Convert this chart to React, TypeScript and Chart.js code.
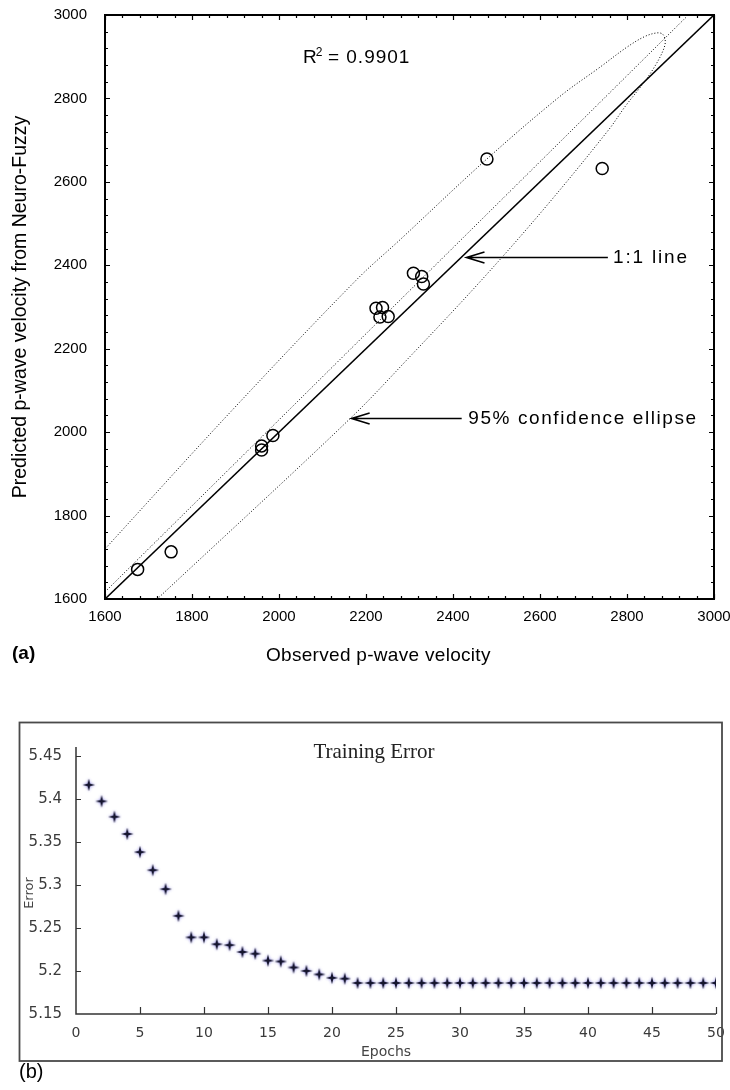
import React, { useEffect, useRef } from "react";
import { Chart, registerables } from "chart.js";
Chart.register(...registerables);

// ---------- Panel (a): observed vs predicted p-wave velocity ----------
const observed = [1675, 1752, 1960, 1960, 1986, 2223, 2238, 2232, 2251, 2309, 2328, 2332, 2478, 2743];
const predicted = [1671, 1713, 1967, 1957, 1992, 2297, 2299, 2276, 2277, 2381, 2373, 2355, 2655, 2632];

const oneToOneX = [1600, 3000];
const oneToOneY = [1600, 3000];

const fitLineX = [1600, 2941];
const fitLineY = [1617, 3000];

const ellipseX = [1540, 1600, 1890, 2178, 2278, 2477, 2646, 2738, 2800, 2840, 2868, 2882, 2888, 2883, 2864, 2838, 2796, 2758, 2613, 2466, 2301, 2165, 1720, 1640];
const ellipseY = [1652, 1720, 2050, 2365, 2461, 2654, 2805, 2875, 2923, 2948, 2957, 2954, 2937, 2915, 2877, 2837, 2781, 2725, 2540, 2365, 2181, 2034, 1600, 1522];

const axisTicksA = [1600, 1800, 2000, 2200, 2400, 2600, 2800, 3000];
const minorStepA = 40;

// ---------- Panel (b): training error ----------
const epochs = [
  1, 2, 3, 4, 5, 6, 7, 8, 9, 10,
  11, 12, 13, 14, 15, 16, 17, 18, 19, 20,
  21, 22, 23, 24, 25, 26, 27, 28, 29, 30,
  31, 32, 33, 34, 35, 36, 37, 38, 39, 40,
  41, 42, 43, 44, 45, 46, 47, 48, 49, 50,
];
const trainingError = [
  5.416, 5.397, 5.379, 5.359, 5.338, 5.317, 5.295, 5.264, 5.239, 5.239,
  5.231, 5.230, 5.222, 5.220, 5.212, 5.211, 5.204, 5.200, 5.196, 5.192,
  5.191, 5.186, 5.186, 5.186, 5.186, 5.186, 5.186, 5.186, 5.186, 5.186,
  5.186, 5.186, 5.186, 5.186, 5.186, 5.186, 5.186, 5.186, 5.186, 5.186,
  5.186, 5.186, 5.186, 5.186, 5.186, 5.186, 5.186, 5.186, 5.186, 5.186,
];
const errorTicks = [5.15, 5.2, 5.25, 5.3, 5.35, 5.4, 5.45];
const epochTicks = [0, 5, 10, 15, 20, 25, 30, 35, 40, 45, 50];

const SANS = "'Liberation Sans', Arial, Helvetica, sans-serif";
const DV = "'DejaVu Sans', Verdana, sans-serif";

function spacedText(ctx: CanvasRenderingContext2D, text: string, x: number, y: number, spacing: number) {
  let cx = x;
  for (const ch of text) {
    ctx.fillText(ch, cx, y);
    cx += ctx.measureText(ch).width + spacing;
  }
  return cx;
}

function arrowLeft(ctx: CanvasRenderingContext2D, tipX: number, tailX: number, y: number) {
  ctx.beginPath();
  ctx.moveTo(tailX, y);
  ctx.lineTo(tipX, y);
  ctx.moveTo(tipX + 18, y - 5.5);
  ctx.lineTo(tipX, y);
  ctx.lineTo(tipX + 18, y + 5.5);
  ctx.stroke();
}

const noPadX = (h: number) => (s: any) => {
  s.height = h;
  s.paddingLeft = 0;
  s.paddingRight = 0;
  s.paddingTop = 0;
  s.paddingBottom = 0;
};
const noPadY = (w: number) => (s: any) => {
  s.width = w;
  s.paddingLeft = 0;
  s.paddingRight = 0;
  s.paddingTop = 0;
  s.paddingBottom = 0;
};

const panelAPlugin = {
  id: "panelA",
  afterDraw(chart: any) {
    const { ctx, chartArea: ca, scales } = chart;
    const xs = scales.x;
    const ys = scales.y;
    ctx.save();
    ctx.strokeStyle = "#000";
    ctx.lineWidth = 1.2;
    for (let v = axisTicksA[0]; v <= axisTicksA[axisTicksA.length - 1]; v += minorStepA) {
      const major = axisTicksA.includes(v);
      const len = major ? 5 : 3;
      const px = Math.round(xs.getPixelForValue(v)) + 0.5;
      const py = Math.round(ys.getPixelForValue(v)) + 0.5;
      ctx.beginPath();
      ctx.moveTo(px, ca.bottom);
      ctx.lineTo(px, ca.bottom - len);
      ctx.moveTo(px, ca.top);
      ctx.lineTo(px, ca.top + len);
      ctx.moveTo(ca.left, py);
      ctx.lineTo(ca.left + len, py);
      ctx.moveTo(ca.right, py);
      ctx.lineTo(ca.right - len, py);
      ctx.stroke();
    }
    ctx.lineWidth = 2;
    ctx.strokeRect(ca.left, ca.top, ca.right - ca.left, ca.bottom - ca.top);

    ctx.fillStyle = "#000";
    ctx.textBaseline = "alphabetic";
    ctx.textAlign = "left";
    // R^2 label
    const rx = xs.getPixelForValue(2055);
    const ry = ys.getPixelForValue(2885);
    ctx.font = `19px ${SANS}`;
    ctx.fillText("R", rx, ry);
    const rw = ctx.measureText("R").width;
    ctx.font = `12px ${SANS}`;
    ctx.fillText("2", rx + rw - 1, ry - 7);
    ctx.font = `19px ${SANS}`;
    spacedText(ctx, " = 0.9901", rx + rw + 5, ry, 1);

    // 1:1 line arrow + label
    ctx.lineWidth = 1.6;
    const a1y = Math.round(ys.getPixelForValue(2421)) + 0.5;
    arrowLeft(ctx, xs.getPixelForValue(2431), xs.getPixelForValue(2756), a1y);
    spacedText(ctx, "1:1 line", xs.getPixelForValue(2768), ys.getPixelForValue(2405), 1.8);

    // ellipse arrow + label
    const a2y = Math.round(ys.getPixelForValue(2033)) + 0.5;
    arrowLeft(ctx, xs.getPixelForValue(2167), xs.getPixelForValue(2420), a2y);
    spacedText(ctx, "95% confidence ellipse", xs.getPixelForValue(2435), ys.getPixelForValue(2020), 1.6);

    // x axis title
    ctx.font = `19px ${SANS}`;
    spacedText(ctx, "Observed p-wave velocity", ca.left + 161, ca.bottom + 62, 0.3);

    // panel tag
    ctx.font = `bold 19px ${SANS}`;
    ctx.fillText("(a)", 12, ca.bottom + 60);
    ctx.restore();
  },
};

function makeStar(): HTMLCanvasElement {
  const c = document.createElement("canvas");
  c.width = 16;
  c.height = 16;
  const g = c.getContext("2d")!;
  const cx = 8, cy = 8, R = 6.2, r = 1.8;
  g.shadowColor = "rgba(90,80,210,0.8)";
  g.shadowBlur = 3;
  g.fillStyle = "#15152e";
  g.beginPath();
  for (let i = 0; i < 8; i++) {
    const ang = -Math.PI / 2 + (i * Math.PI) / 4;
    const rad = i % 2 === 0 ? R : r;
    g.lineTo(cx + rad * Math.cos(ang), cy + rad * Math.sin(ang));
  }
  g.closePath();
  g.fill();
  return c;
}

const panelBPlugin = {
  id: "panelB",
  afterDraw(chart: any) {
    const { ctx, chartArea: ca, scales } = chart;
    const xs = scales.x;
    const ys = scales.y;
    ctx.save();
    // outer frame
    ctx.strokeStyle = "#4a4a4a";
    ctx.lineWidth = 1.8;
    ctx.strokeRect(19.5, 42.5, 702.5, 338.5);
    // axes
    ctx.strokeStyle = "#333";
    ctx.lineWidth = 1.5;
    ctx.beginPath();
    ctx.moveTo(ca.left, ca.top);
    ctx.lineTo(ca.left, ca.bottom);
    ctx.lineTo(ca.right, ca.bottom);
    ctx.stroke();
    ctx.lineWidth = 1.2;
    ctx.beginPath();
    for (const v of errorTicks) {
      if (v === errorTicks[0]) continue;
      const py = Math.round(ys.getPixelForValue(v)) + 0.5;
      ctx.moveTo(ca.left, py);
      ctx.lineTo(ca.left + 5, py);
    }
    for (const v of epochTicks) {
      if (v === epochTicks[0]) continue;
      const px = Math.round(xs.getPixelForValue(v)) + 0.5;
      ctx.moveTo(px, ca.bottom);
      ctx.lineTo(px, ca.bottom - 7);
    }
    ctx.stroke();

    ctx.fillStyle = "#222";
    ctx.textAlign = "center";
    ctx.textBaseline = "middle";
    ctx.font = "21px 'Liberation Serif', 'Times New Roman', serif";
    ctx.fillText("Training Error", 374, 72);
    ctx.fillStyle = "#444";
    ctx.font = `14px ${DV}`;
    ctx.fillText("Epochs", 386, 372);
    ctx.save();
    ctx.translate(30, 213);
    ctx.rotate(-Math.PI / 2);
    ctx.font = `13px ${DV}`;
    ctx.fillText("Error", 0, 0);
    ctx.restore();

    ctx.fillStyle = "#000";
    ctx.textAlign = "left";
    ctx.font = `20px ${SANS}`;
    ctx.fillText("(b)", 19, 392);
    ctx.restore();
  },
};

export default function App() {
  const refA = useRef<HTMLCanvasElement>(null);
  const refB = useRef<HTMLCanvasElement>(null);

  useEffect(() => {
    const pts = (xs: number[], ys: number[]) => xs.map((x, i) => ({ x, y: ys[i] }));

    const chartA = new Chart(refA.current!, {
      type: "scatter",
      data: {
        datasets: [
          {
            label: "Samples",
            data: pts(observed, predicted),
            showLine: false,
            pointRadius: 6,
            pointBorderWidth: 1.5,
            pointBorderColor: "#000",
            pointBackgroundColor: "rgba(0,0,0,0)",
          },
          {
            label: "1:1 line",
            data: pts(oneToOneX, oneToOneY),
            showLine: true,
            borderColor: "#000",
            borderWidth: 1.6,
            pointRadius: 0,
          },
          {
            label: "Fit",
            data: pts(fitLineX, fitLineY),
            showLine: true,
            borderColor: "#000",
            borderWidth: 1,
            borderDash: [1, 2],
            pointRadius: 0,
          },
          {
            label: "95% confidence ellipse",
            data: pts(ellipseX, ellipseY),
            showLine: true,
            borderColor: "#000",
            borderWidth: 1,
            borderDash: [1, 2],
            pointRadius: 0,
            tension: 0.35,
            clip: 0,
          },
        ],
      },
      options: {
        responsive: false,
        animation: false,
        devicePixelRatio: 1,
        layout: { padding: { top: 15, right: 16, left: 0, bottom: 0 } },
        plugins: { legend: { display: false }, tooltip: { enabled: false } },
        scales: {
          x: {
            type: "linear",
            min: 1600,
            max: 3000,
            afterBuildTicks: (s: any) => {
              s.ticks = axisTicksA.map((v) => ({ value: v }));
            },
            afterFit: noPadX(81),
            grid: { display: false, drawTicks: false },
            border: { display: false },
            ticks: {
              font: { family: SANS, size: 15 },
              color: "#000",
              padding: 9,
              maxRotation: 0,
              autoSkip: false,
              callback: (v: any) => String(v),
            },
          },
          y: {
            type: "linear",
            min: 1600,
            max: 3000,
            afterBuildTicks: (s: any) => {
              s.ticks = axisTicksA.map((v) => ({ value: v }));
            },
            afterFit: noPadY(105),
            grid: { display: false, drawTicks: false },
            border: { display: false },
            ticks: {
              font: { family: SANS, size: 15 },
              color: "#000",
              padding: 18,
              autoSkip: false,
              callback: (v: any) => String(v),
            },
            title: {
              display: true,
              text: "Predicted p-wave velocity from Neuro-Fuzzy",
              font: { family: SANS, size: 19.5 },
              color: "#000",
              padding: { top: 9, bottom: 0 },
            },
          },
        },
      },
      plugins: [panelAPlugin],
    } as any);

    const star = makeStar();
    const chartB = new Chart(refB.current!, {
      type: "scatter",
      data: {
        datasets: [
          {
            label: "Training Error",
            data: pts(epochs, trainingError),
            showLine: false,
            pointStyle: star,
            pointRadius: 6,
          },
        ],
      },
      options: {
        responsive: false,
        animation: false,
        devicePixelRatio: 1,
        layout: { padding: { top: 67, right: 14, left: 0, bottom: 0 } },
        plugins: { legend: { display: false }, tooltip: { enabled: false } },
        scales: {
          x: {
            type: "linear",
            min: 0,
            max: 50,
            afterBuildTicks: (s: any) => {
              s.ticks = epochTicks.map((v) => ({ value: v }));
            },
            afterFit: noPadX(76),
            grid: { display: false, drawTicks: false },
            border: { display: false },
            ticks: { font: { family: DV, size: 14 }, color: "#3a3a3a", padding: 11, maxRotation: 0, autoSkip: false },
          },
          y: {
            type: "linear",
            min: 5.15,
            max: 5.46,
            afterBuildTicks: (s: any) => {
              s.ticks = errorTicks.map((v) => ({ value: v }));
            },
            afterFit: noPadY(76),
            grid: { display: false, drawTicks: false },
            border: { display: false },
            ticks: {
              font: { family: DV, size: 15 },
              color: "#3a3a3a",
              padding: 14,
              autoSkip: false,
              callback: (v: any) => String(Number(v)),
            },
          },
        },
      },
      plugins: [panelBPlugin],
    } as any);

    return () => {
      chartA.destroy();
      chartB.destroy();
    };
  }, []);

  return (
    <div style={{ position: "absolute", left: 0, top: 0, width: 730, height: 1090, background: "#fff" }}>
      <canvas ref={refA} width={730} height={680} style={{ position: "absolute", left: 0, top: 0 }} />
      <canvas ref={refB} width={730} height={410} style={{ position: "absolute", left: 0, top: 680 }} />
    </div>
  );
}
